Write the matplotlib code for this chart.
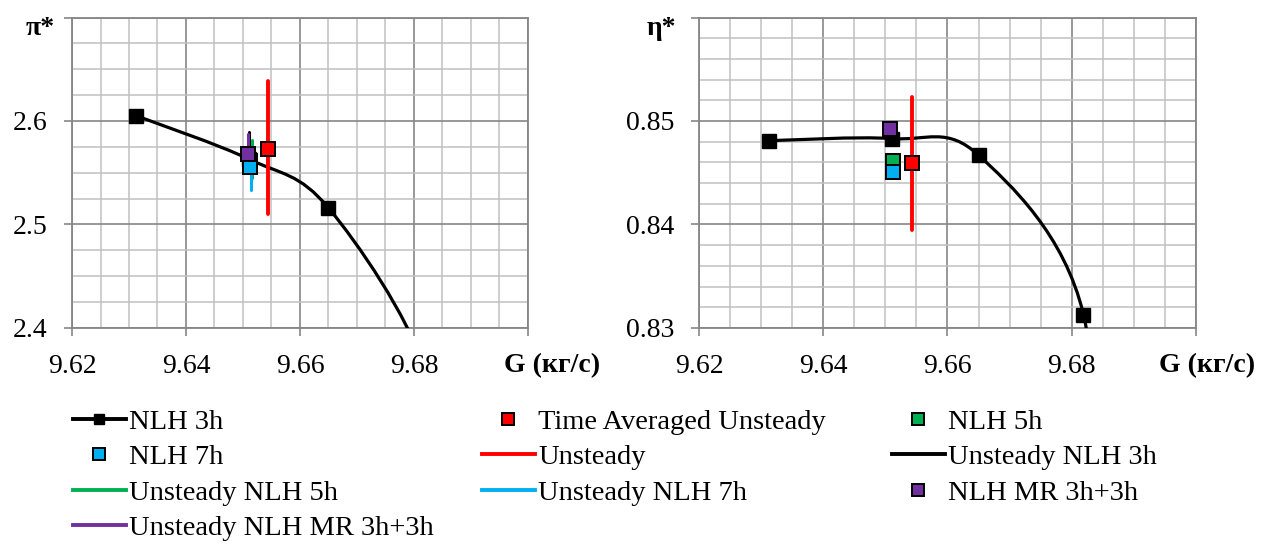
import numpy as np
import matplotlib
matplotlib.use('Agg')
import matplotlib.pyplot as plt
from matplotlib.path import Path
from matplotlib.patches import PathPatch
from matplotlib.lines import Line2D
from matplotlib.ticker import MultipleLocator

plt.rcParams['font.family'] = ['Liberation Serif', 'DejaVu Serif']

# ---- data ----
# last NLH 3h point lies below both plots, only the curve towards it shows
g_nlh3 = [9.6313, 9.6511, 9.6650, 9.6819, 9.6835]
pi_nlh3 = [2.605, 2.563, 2.516, 2.360, 2.200]
eta_nlh3 = [0.8481, 0.8483, 0.8467, 0.8313, 0.8000]

g_avg = [9.6543]
pi_avg = [2.5728]
eta_avg = [0.84595]

g_nlh5 = [9.6512]
pi_nlh5 = [2.561]
eta_nlh5 = [0.8461]

g_nlh7 = [9.6512]
pi_nlh7 = [2.5555]
eta_nlh7 = [0.8451]

g_mr = [9.6508]
pi_mr = [2.5683]
eta_mr = [0.8492]

# unsteady traces (min / max of the oscillation)
g_unst = [9.6543, 9.6543]
pi_unst = [2.6388, 2.5106]
eta_unst = [0.85236, 0.83948]

g_unst3 = [9.6511, 9.6511]
pi_unst3 = [2.589, 2.555]
g_unst5 = [9.6515, 9.6515]
pi_unst5 = [2.582, 2.545]
g_unst7 = [9.6514, 9.6514]
pi_unst7 = [2.560, 2.533]
g_unstmr = [9.6509, 9.6509]
pi_unstmr = [2.5875, 2.565]

RED = '#FF0000'
GREEN = '#00B050'
BLUE = '#00B0F0'
PURPLE = '#7030A0'
MAJ = '#868686'
MIN = '#C0C0C0'


def excel_smooth(x, y):
    # bezier smoothing like the "smoothed line" option of a spreadsheet
    pts = np.column_stack([x, y])
    n = len(pts)
    verts = [pts[0]]
    codes = [Path.MOVETO]
    for i in range(n - 1):
        p0 = pts[i - 1] if i > 0 else pts[i]
        p1 = pts[i]
        p2 = pts[i + 1]
        p3 = pts[i + 2] if i + 2 < n else pts[i + 1]
        verts += [p1 + (p2 - p0) / 6, p2 - (p3 - p1) / 6, p2]
        codes += [Path.CURVE4] * 3
    return Path(verts, codes)


def style_axes(ax, ymin, ymax, ymaj, ymin_step, ylabels):
    ax.set_xlim(9.62, 9.70)
    ax.set_ylim(ymin, ymax)
    ax.set_xticks([9.62, 9.64, 9.66, 9.68, 9.70])
    ax.set_xticklabels(['9.62', '9.64', '9.66', '9.68', ''])
    yt = np.arange(ymin, ymax + ymaj / 2, ymaj)
    ax.set_yticks(yt)
    ax.set_yticklabels(ylabels + [''])
    ax.xaxis.set_minor_locator(MultipleLocator(0.005))
    ax.yaxis.set_minor_locator(MultipleLocator(ymin_step))
    ax.grid(which='minor', color=MIN, lw=1.1)
    ax.grid(which='major', color=MAJ, lw=1.2)
    ax.set_axisbelow(True)
    for s in ax.spines.values():
        s.set_color(MAJ)
        s.set_linewidth(1.3)
    ax.tick_params(which='major', direction='out', length=5.5, width=1.2,
                   color=MAJ, labelsize=20)
    ax.tick_params(axis='x', which='major', pad=13)
    ax.tick_params(axis='y', which='major', pad=12)
    ax.tick_params(which='minor', length=0)


fig = plt.figure(figsize=(12.61, 5.47), dpi=100)
ax1 = fig.add_axes([0.0571, 0.4004, 0.3616, 0.5676])
ax2 = fig.add_axes([0.5543, 0.4004, 0.3941, 0.5676])

ms = 9.5
mew = 1.4

for ax, yv in [(ax1, pi_nlh3), (ax2, eta_nlh3)]:
    ax.add_patch(PathPatch(excel_smooth(g_nlh3, yv), fill=False,
                           edgecolor='black', lw=2.3, zorder=3))
    ax.plot(g_nlh3, yv, 's', color='black', ms=ms, zorder=4)

# unsteady traces
ax1.plot(g_unst, pi_unst, color=RED, lw=2.8, solid_capstyle='round', zorder=3)
ax1.plot(g_unst3, pi_unst3, color='black', lw=2.2, solid_capstyle='round', zorder=3)
ax1.plot(g_unst5, pi_unst5, color=GREEN, lw=2.2, solid_capstyle='round', zorder=3)
ax1.plot(g_unst7, pi_unst7, color=BLUE, lw=2.2, solid_capstyle='round', zorder=3)
ax1.plot(g_unstmr, pi_unstmr, color=PURPLE, lw=2.2, solid_capstyle='round', zorder=3)
ax2.plot(g_unst, eta_unst, color=RED, lw=2.8, solid_capstyle='round', zorder=3)

for ax, yavg, y5, y7, ymr in [(ax1, pi_avg, pi_nlh5, pi_nlh7, pi_mr),
                              (ax2, eta_avg, eta_nlh5, eta_nlh7, eta_mr)]:
    ax.plot(g_avg, yavg, 's', color=RED, mec='black', ms=ms, mew=mew, zorder=5)
    ax.plot(g_nlh5, y5, 's', color=GREEN, mec='black', ms=ms, mew=mew, zorder=5)
    ax.plot(g_nlh7, y7, 's', color=BLUE, mec='black', ms=ms, mew=mew, zorder=5)
    ax.plot(g_mr, ymr, 's', color=PURPLE, mec='black', ms=ms, mew=mew, zorder=5)

style_axes(ax1, 2.4, 2.7, 0.1, 0.025, ['2.4', '2.5', '2.6'])
style_axes(ax2, 0.83, 0.86, 0.01, 0.002, ['0.83', '0.84', '0.85'])

fig.text(0.0317, 0.9488, 'π*', fontsize=20, fontweight='bold', ha='center', va='center')
fig.text(0.5242, 0.9488, 'η*', fontsize=20, fontweight='bold', ha='center', va='center')
fig.text(0.4377, 0.3309, 'G (кг/с)', fontsize=20, fontweight='bold', ha='center', va='center')
fig.text(0.9572, 0.3309, 'G (кг/с)', fontsize=20, fontweight='bold', ha='center', va='center')


# legend: three columns placed one by one
def mk(color):
    return Line2D([], [], ls='none', marker='s', color=color, mec='black', ms=8, mew=1.4)


def ln(color):
    return Line2D([], [], color=color, lw=2.8)


columns = [
    ([Line2D([], [], color='black', lw=2.8, marker='s', ms=7.5), mk(BLUE), ln(GREEN), ln(PURPLE)],
     ['NLH 3h', 'NLH 7h', 'Unsteady NLH 5h', 'Unsteady NLH MR 3h+3h'], 73),
    ([mk(RED), ln(RED), ln(BLUE)],
     ['Time Averaged Unsteady', 'Unsteady', 'Unsteady NLH 7h'], 482),
    ([mk(GREEN), ln('black'), mk(PURPLE)],
     ['NLH 5h', 'Unsteady NLH 3h', 'NLH MR 3h+3h'], 892),
]
for hs, ls, xpx in columns:
    fig.legend(hs, ls, ncol=1, loc='upper left',
               bbox_to_anchor=(xpx / 1261, 1 - 409 / 547), frameon=False,
               borderpad=0, borderaxespad=0, handlelength=1.85, handletextpad=0.12,
               labelspacing=0.33, fontsize=20.5)

fig.savefig('out.png', dpi=100)
